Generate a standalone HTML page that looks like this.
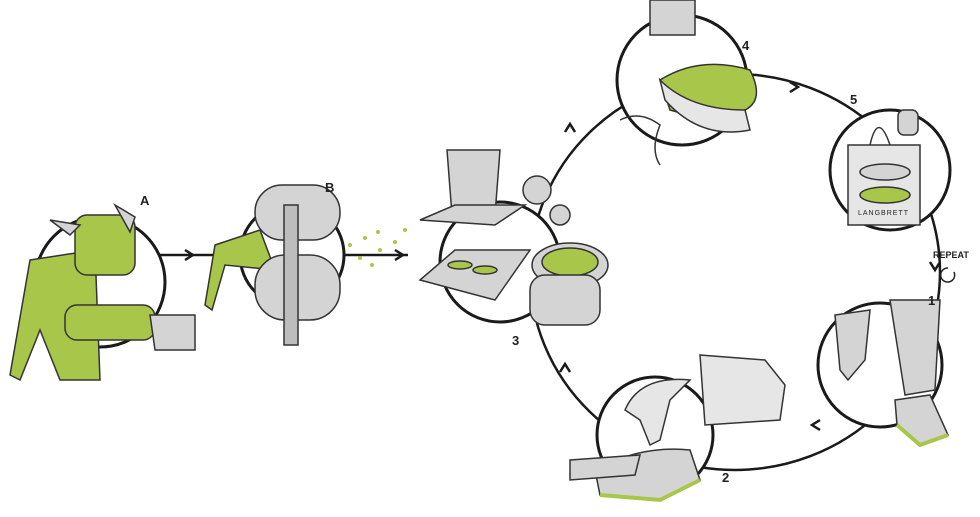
<!DOCTYPE html>
<html><head><meta charset="utf-8"><style>
html,body{margin:0;padding:0;background:#fff;}
svg{display:block;}
text{font-family:"Liberation Sans",sans-serif;fill:#222;}
</style></head><body>
<svg width="980" height="517" viewBox="0 0 980 517" xmlns="http://www.w3.org/2000/svg">
<defs>
<marker id="ar" viewBox="0 0 10 10" refX="6" refY="5" markerWidth="7" markerHeight="7" orient="auto"><path d="M0,0 L10,5 L0,10" fill="none" stroke="#111" stroke-width="2"/></marker>
</defs>
<g fill="none" stroke="#1a1a1a" stroke-width="2.5">
<ellipse cx="735" cy="272" rx="205" ry="198"/>
<line x1="160" y1="255" x2="240" y2="255"/>
<line x1="335" y1="255" x2="408" y2="255"/>
</g>
<g fill="none" stroke="#1a1a1a" stroke-width="2.5">
<path d="M185,250 l8,5 l-8,5"/><path d="M395,250 l8,5 l-8,5"/>
<path d="M790,82 l8,5 l-8,5"/><path d="M930,262 l5,8 l5,-8"/>
<path d="M820,420 l-8,5 l8,5"/><path d="M560,372 l5,-8 l5,8"/><path d="M565,132 l5,-8 l5,8"/>
</g>
<!-- node circles -->
<g fill="#fff" stroke="#1a1a1a" stroke-width="3">
<circle cx="100" cy="282" r="65"/>
<circle cx="292" cy="255" r="52"/>
<circle cx="500" cy="262" r="60"/>
<circle cx="682" cy="80" r="65"/>
<circle cx="890" cy="170" r="60"/>
<circle cx="880" cy="365" r="62"/>
<circle cx="655" cy="435" r="58"/>
</g>
<!-- A: green clothes -->
<g stroke="#333" stroke-width="1.5">
<path d="M30,260 L95,250 L100,380 L60,380 L40,330 L20,380 L10,375 Z" fill="#a8c74a"/>
<rect x="75" y="215" width="60" height="60" rx="12" fill="#a8c74a"/>
<rect x="65" y="305" width="90" height="35" rx="12" fill="#a8c74a"/>
<path d="M150,315 L195,315 L195,350 L155,350 Z" fill="#d4d4d4"/>
<path d="M50,220 l20,15 l10,-10 Z M115,205 l20,12 l-5,15 Z" fill="#d4d4d4"/>
</g>
<!-- B rollers -->
<g stroke="#333" stroke-width="1.5">
<path d="M215,245 L260,230 L275,270 L225,265 L212,310 L205,305 Z" fill="#a8c74a"/>
<rect x="255" y="185" width="85" height="55" rx="27" fill="#d4d4d4"/>
<rect x="255" y="255" width="85" height="65" rx="30" fill="#d4d4d4"/>
<rect x="284" y="205" width="14" height="140" fill="#bdbdbd"/>
</g>
<g fill="#a8c74a"><circle cx="350" cy="245" r="2"/><circle cx="365" cy="238" r="2"/><circle cx="378" cy="232" r="2"/><circle cx="360" cy="258" r="2"/><circle cx="380" cy="250" r="2"/><circle cx="395" cy="242" r="2"/><circle cx="405" cy="230" r="2"/><circle cx="372" cy="265" r="2"/></g>
<!-- 3 press -->
<g stroke="#333" stroke-width="1.5">
<path d="M447,150 L500,150 L495,215 L452,215 Z" fill="#d4d4d4"/>
<path d="M420,220 L455,205 L525,205 L495,225 Z" fill="#d4d4d4"/>
<path d="M420,280 L455,250 L530,250 L495,300 Z" fill="#d4d4d4"/>
<ellipse cx="460" cy="265" rx="12" ry="4" fill="#a8c74a"/><ellipse cx="485" cy="270" rx="12" ry="4" fill="#a8c74a"/>
<ellipse cx="570" cy="265" rx="38" ry="22" fill="#d4d4d4"/>
<ellipse cx="570" cy="262" rx="28" ry="14" fill="#a8c74a"/>
<rect x="530" y="275" width="70" height="50" rx="15" fill="#d4d4d4"/>
<circle cx="537" cy="190" r="14" fill="#d4d4d4"/><circle cx="560" cy="215" r="10" fill="#d4d4d4"/>
</g>
<!-- 4 sewing -->
<g stroke="#333" stroke-width="1.5">
<rect x="650" y="0" width="45" height="35" fill="#d4d4d4"/>
<path d="M660,80 Q700,55 750,70 Q765,100 745,110 Q700,120 670,110 Z" fill="#a8c74a"/>
<path d="M660,80 Q690,110 745,110 L750,130 Q700,140 665,100 Z" fill="#e6e6e6"/>
<path d="M620,120 q20,-10 40,5 q-10,25 0,40" fill="none"/>
</g>
<!-- 5 bag -->
<g stroke="#333" stroke-width="1.5">
<rect x="848" y="145" width="72" height="80" fill="#e6e6e6"/>
<path d="M870,145 Q878,110 890,145" fill="none"/>
<ellipse cx="885" cy="172" rx="25" ry="8" fill="#d4d4d4"/>
<ellipse cx="885" cy="195" rx="25" ry="8" fill="#a8c74a"/>
<rect x="898" y="110" width="20" height="25" rx="6" fill="#d4d4d4"/>
</g>
<text x="858" y="215" font-size="7" letter-spacing="1">LANGBRETT</text>
<!-- 1 legs -->
<g stroke="#333" stroke-width="1.5">
<path d="M835,315 L870,310 L865,360 L848,380 L840,370 Z" fill="#d4d4d4"/>
<path d="M890,300 L940,300 L935,390 L905,395 Z" fill="#d4d4d4"/>
<path d="M895,400 L930,395 L948,435 L920,445 L897,425 Z" fill="#d4d4d4"/>
<path d="M897,425 L920,445 L948,435" fill="none" stroke="#a8c74a" stroke-width="4"/>
</g>
<!-- 2 shoes & car -->
<g stroke="#333" stroke-width="1.5">
<path d="M700,355 L765,360 L785,385 L780,420 L705,425 Z" fill="#e6e6e6"/>
<path d="M625,410 Q640,375 690,380 L670,400 L660,440 L650,445 L640,420 Z" fill="#e6e6e6"/>
<path d="M595,470 Q640,445 690,450 L700,480 L660,500 L600,495 Z" fill="#d4d4d4"/>
<path d="M570,460 L640,455 L635,475 L570,480 Z" fill="#d4d4d4"/>
<path d="M600,495 L660,500 L700,480" fill="none" stroke="#a8c74a" stroke-width="4"/>
</g>
<!-- labels -->
<g font-size="13" font-weight="bold">
<text x="140" y="205">A</text>
<text x="325" y="192">B</text>
<text x="512" y="345">3</text>
<text x="742" y="50">4</text>
<text x="850" y="104">5</text>
<text x="928" y="305">1</text>
<text x="722" y="482">2</text>
</g>
<text x="933" y="258" font-size="9" font-weight="bold">REPEAT</text>
<path d="M948,268 a7,7 0 1 0 6,4" fill="none" stroke="#222" stroke-width="1.5"/>
</svg>
</body></html>
